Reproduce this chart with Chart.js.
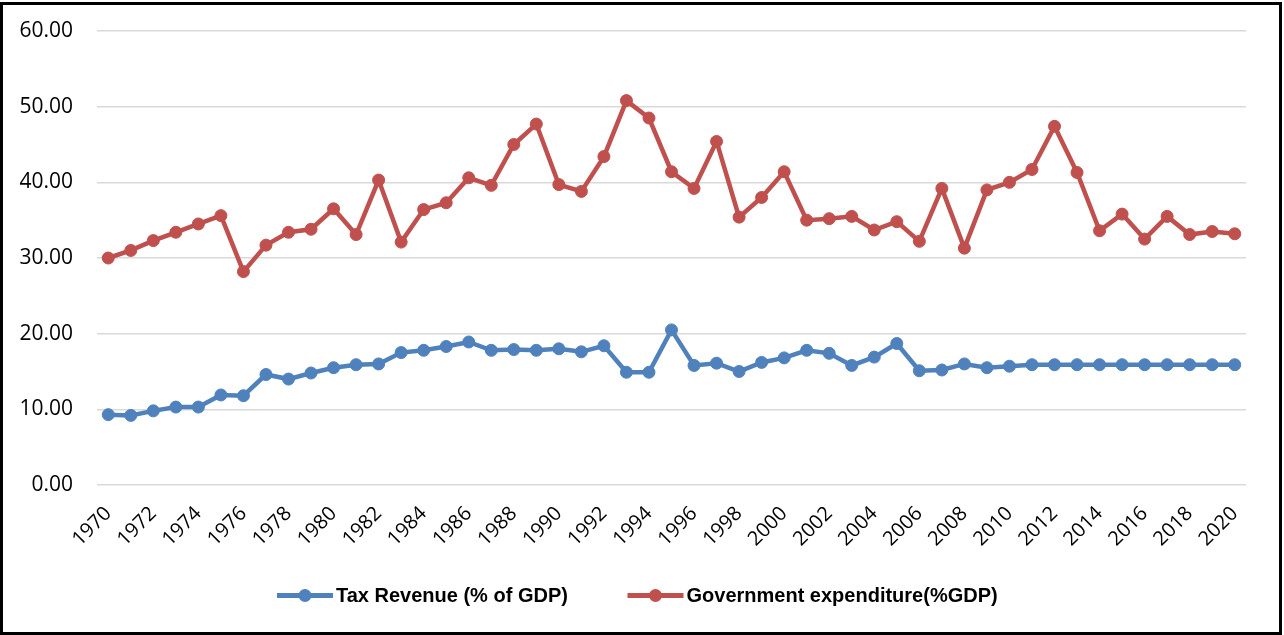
<!DOCTYPE html>
<html>
<head>
<meta charset="utf-8">
<script src="https://cdn.jsdelivr.net/npm/chart.js@4"></script>
<style>
  body { margin: 0; background: #fff; }
  #frame {
    position: absolute; left: 0; top: 2px;
    width: 1282px; height: 633px;
    border: 3px solid #000; box-sizing: border-box;
  }
  #wrap { position: absolute; left: 0; top: 0; width: 1276px; height: 627px; }
</style>
</head>
<body>
<div id="frame"><div id="wrap"><canvas id="chart"></canvas></div></div>
<script>
const years = ['1970','1971','1972','1973','1974','1975','1976','1977','1978','1979',
  '1980','1981','1982','1983','1984','1985','1986','1987','1988','1989',
  '1990','1991','1992','1993','1994','1995','1996','1997','1998','1999',
  '2000','2001','2002','2003','2004','2005','2006','2007','2008','2009',
  '2010','2011','2012','2013','2014','2015','2016','2017','2018','2019','2020'];

const taxRevenue = [9.3, 9.2, 9.8, 10.3, 10.3, 11.9, 11.8, 14.6, 14.0, 14.8,
  15.5, 15.9, 16.0, 17.5, 17.8, 18.3, 18.9, 17.8, 17.9, 17.8,
  18.0, 17.6, 18.4, 14.9, 14.9, 20.5, 15.8, 16.1, 15.0, 16.2,
  16.8, 17.8, 17.4, 15.8, 16.9, 18.7, 15.1, 15.2, 16.0, 15.5,
  15.7, 15.9, 15.9, 15.9, 15.9, 15.9, 15.9, 15.9, 15.9, 15.9, 15.9];

const govExpenditure = [30.0, 31.0, 32.3, 33.4, 34.5, 35.6, 28.2, 31.7, 33.4, 33.8,
  36.5, 33.1, 40.3, 32.1, 36.4, 37.3, 40.6, 39.6, 45.0, 47.7,
  39.7, 38.8, 43.4, 50.8, 48.5, 41.4, 39.2, 45.4, 35.4, 38.0,
  41.4, 35.0, 35.2, 35.5, 33.7, 34.8, 32.2, 39.2, 31.3, 39.0,
  40.0, 41.7, 47.4, 41.3, 33.6, 35.8, 32.5, 35.5, 33.1, 33.5, 33.2];

const seriesNames = ['Tax Revenue (% of GDP)', 'Government expenditure(%GDP)'];
const yMin = 0, yMax = 60, yStep = 10;

const BLUE = '#4F81BD';
const RED = '#C0504D';
const FONT = "'Open Sans', 'Noto Sans', sans-serif";

// legend drawn by hand: line + dot, then bold label
const lineLegend = {
  id: 'lineLegend',
  afterDraw(chart) {
    const ctx = chart.ctx;
    const starts = [274, 624.5];
    const y = 590.5;
    ctx.save();
    chart.data.datasets.forEach((ds, i) => {
      const x = starts[i];
      ctx.strokeStyle = ds.borderColor;
      ctx.lineWidth = 5;
      ctx.beginPath();
      ctx.moveTo(x, y);
      ctx.lineTo(x + 56, y);
      ctx.stroke();
      ctx.fillStyle = ds.borderColor;
      ctx.beginPath();
      ctx.arc(x + 28, y, 6.5, 0, Math.PI * 2);
      ctx.fill();
      ctx.fillStyle = '#000';
      ctx.font = "bold 20px 'Liberation Sans', Arial, sans-serif";
      ctx.textBaseline = 'middle';
      ctx.textAlign = 'left';
      ctx.fillText(ds.label, x + 59, y + 1);
    });
    ctx.restore();
  }
};

new Chart(document.getElementById('chart'), {
  type: 'line',
  data: {
    labels: years,
    datasets: [
      {
        label: seriesNames[0],
        data: taxRevenue,
        borderColor: BLUE,
        backgroundColor: BLUE,
        pointBackgroundColor: BLUE,
        pointBorderColor: BLUE
      },
      {
        label: seriesNames[1],
        data: govExpenditure,
        borderColor: RED,
        backgroundColor: RED,
        pointBackgroundColor: RED,
        pointBorderColor: RED
      }
    ]
  },
  options: {
    responsive: true,
    maintainAspectRatio: false,
    animation: false,
    elements: {
      line: { borderWidth: 4.5, tension: 0 },
      point: { radius: 6, borderWidth: 1, hoverRadius: 6 }
    },
    layout: { padding: { top: 26, right: 33, bottom: 70, left: 0 } },
    plugins: {
      legend: { display: false },
      tooltip: { enabled: false }
    },
    scales: {
      x: {
        offset: true,
        grid: { display: false },
        border: { display: false },
        ticks: {
          autoSkip: false,
          minRotation: 45,
          maxRotation: 45,
          padding: 9,
          color: '#000',
          font: { family: FONT, size: 20 },
          callback: function(value, index) {
            return index % 2 === 0 ? this.getLabelForValue(value) : '';
          }
        },
        afterFit: function(scale) { scale.height = 77; }
      },
      y: {
        min: yMin,
        max: yMax,
        // invisible ticks give the label gap without adding top padding
        grid: { color: '#d9d9d9', lineWidth: 1.5, drawTicks: true, tickLength: 24, tickColor: 'rgba(0,0,0,0)' },
        border: { display: false },
        ticks: {
          stepSize: yStep,
          padding: 0,
          color: '#000',
          font: { family: FONT, size: 21 },
          callback: v => v.toFixed(2)
        },
        afterFit: function(scale) { scale.width = 94; }
      }
    }
  },
  plugins: [lineLegend]
});
</script>
</body>
</html>
